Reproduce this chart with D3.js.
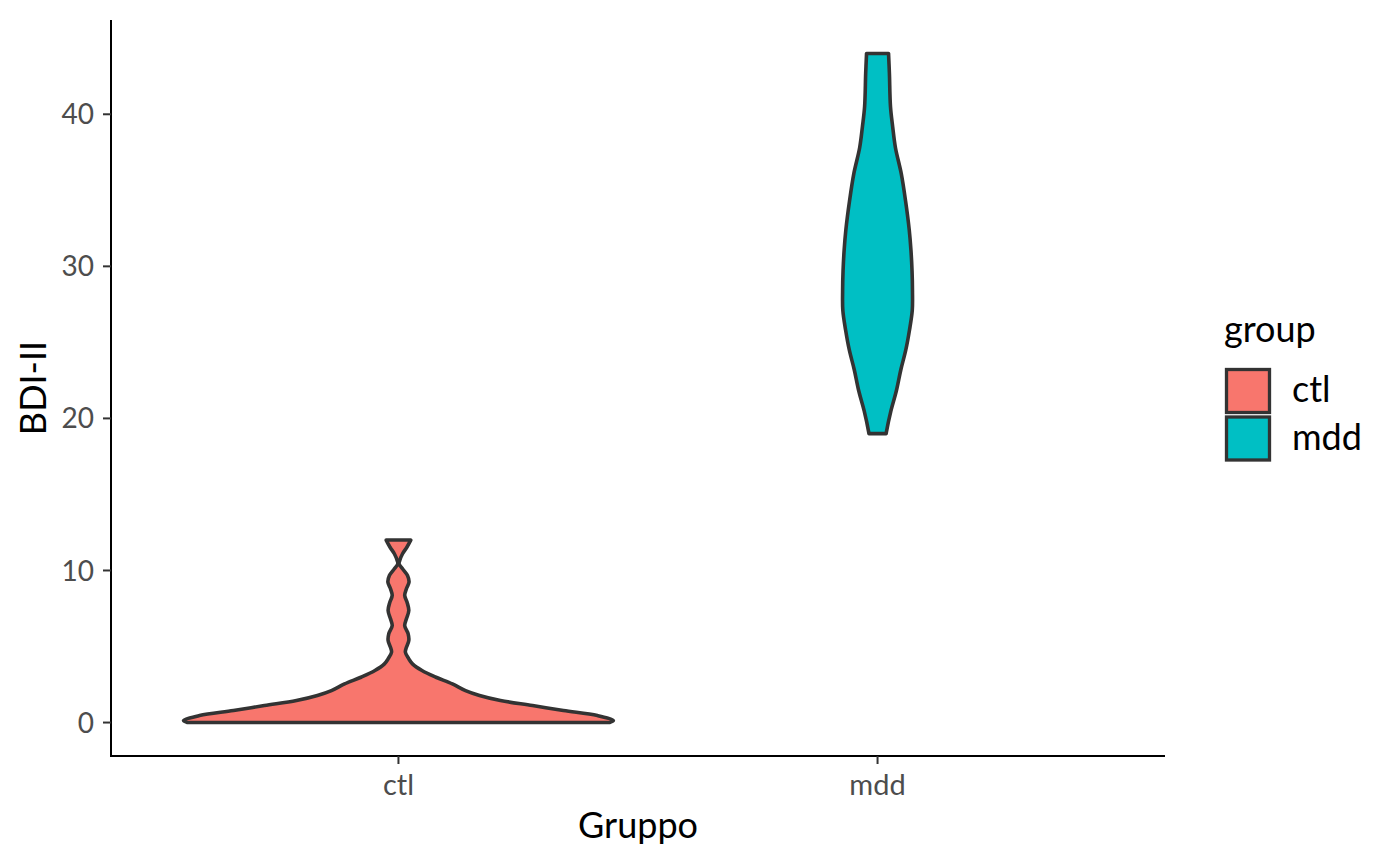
<!DOCTYPE html>
<html>
<head>
<meta charset="utf-8">
<script src="https://cdn.jsdelivr.net/npm/d3@7"></script>
<style>
  html, body { margin: 0; padding: 0; background: #ffffff; }
  svg { display: block; }
  text { font-family: "Source Sans Pro", Lato, "Noto Sans", sans-serif; }
</style>
</head>
<body>
<svg id="chart" width="1400" height="865"></svg>
<script>
// ---- data ----
const groups = ["ctl", "mdd"];
const groupColors = ["#F8766D", "#00BFC4"];
const yTicks = [0, 10, 20, 30, 40];

// violin profiles: BDI-II value and relative violin width (1 = full width)
const ctlValues = [0, 0.13, 0.46, 0.79, 1.12, 1.45, 1.78, 2.1, 2.54, 2.98, 3.42, 3.86, 4.19, 4.63, 4.95, 5.39, 5.83, 6.38, 6.82, 7.37, 7.91, 8.36, 8.8, 9.23, 9.67, 10.11, 10.44, 10.66, 11.1, 11.53, 12];
const ctlWidths = [0.979, 0.997, 0.923, 0.765, 0.622, 0.473, 0.376, 0.311, 0.250, 0.174, 0.109, 0.065, 0.048, 0.032, 0.037, 0.048, 0.045, 0.029, 0.037, 0.048, 0.040, 0.029, 0.037, 0.049, 0.042, 0.019, 0.003, 0.006, 0.019, 0.039, 0.057];
const mddValues = [19, 19.1, 20.5, 21.8, 23.2, 24.5, 25.8, 27.1, 28.4, 29.7, 31.05, 32.4, 34.3, 36.1, 37.8, 39.2, 40.5, 42.7, 44];
const mddWidths = [0.040, 0.041, 0.062, 0.087, 0.108, 0.131, 0.148, 0.161, 0.162, 0.160, 0.155, 0.147, 0.130, 0.110, 0.083, 0.070, 0.060, 0.055, 0.051];

const xTitle = "Gruppo";
const yTitle = "BDI-II";
const legendTitle = "group";

// ---- layout ----
const svg = d3.select("#chart");
const panel = { left: 111, right: 1165, top: 20, bottom: 756 };

const yMin = 0, yMax = 44, yPad = (yMax - yMin) * 0.05;
const y = d3.scaleLinear().domain([yMin - yPad, yMax + yPad]).range([panel.bottom, panel.top]);
const xPos = d3.scaleLinear().domain([0.4, 2.6]).range([panel.left, panel.right]);
const unit = xPos(2) - xPos(1);
const halfMax = 0.45 * unit;

const profiles = [
  { group: "ctl", values: ctlValues, widths: ctlWidths },
  { group: "mdd", values: mddValues, widths: mddWidths }
];

// ---- violins ----
const sideLine = d3.line().x(d => d[0]).y(d => d[1]).curve(d3.curveCatmullRom.alpha(0.5));
profiles.forEach((p, i) => {
  const cx = xPos(i + 1);
  const right = p.values.map((v, k) => [cx + p.widths[k] * halfMax, y(v)]);
  const left = p.values.map((v, k) => [cx - p.widths[k] * halfMax, y(v)]).reverse();
  const d = sideLine(right) + "L" + sideLine(left).slice(1) + "Z";
  svg.append("path")
    .attr("d", d)
    .attr("fill", groupColors[i])
    .attr("stroke", "#333333")
    .attr("stroke-width", 3.6)
    .attr("stroke-linejoin", "round");
});

// ---- axes ----
const axisG = svg.append("g");
axisG.append("line").attr("x1", panel.left).attr("x2", panel.left)
  .attr("y1", panel.top).attr("y2", panel.bottom + 1)
  .attr("stroke", "#000").attr("stroke-width", 2);
axisG.append("line").attr("x1", panel.left - 1).attr("x2", panel.right)
  .attr("y1", panel.bottom).attr("y2", panel.bottom)
  .attr("stroke", "#000").attr("stroke-width", 2);

yTicks.forEach(t => {
  axisG.append("line").attr("x1", panel.left - 8).attr("x2", panel.left)
    .attr("y1", y(t)).attr("y2", y(t)).attr("stroke", "#333333").attr("stroke-width", 2);
  axisG.append("text").attr("x", 94).attr("y", y(t))
    .attr("dy", "0.36em").attr("text-anchor", "end")
    .attr("font-size", 28).attr("fill", "#4D4D4D").text(t);
});

groups.forEach((g, i) => {
  const cx = xPos(i + 1);
  axisG.append("line").attr("x1", cx).attr("x2", cx)
    .attr("y1", panel.bottom).attr("y2", panel.bottom + 8).attr("stroke", "#333333").attr("stroke-width", 2);
  axisG.append("text").attr("x", cx).attr("y", 795)
    .attr("text-anchor", "middle")
    .attr("font-size", 29).attr("fill", "#4D4D4D").text(g);
});

// axis titles
svg.append("text").attr("x", (panel.left + panel.right) / 2).attr("y", 838)
  .attr("text-anchor", "middle").attr("font-size", 36).attr("fill", "#000").text(xTitle);
svg.append("text").attr("transform", `translate(46,${(panel.top + panel.bottom) / 2}) rotate(-90)`)
  .attr("text-anchor", "middle").attr("font-size", 36).attr("fill", "#000").text(yTitle);

// ---- legend ----
const leg = svg.append("g");
leg.append("text").attr("x", 1224).attr("y", 342).attr("font-size", 36).attr("fill", "#000").text(legendTitle);
groups.forEach((g, i) => {
  const top = 368 + i * 47.5;
  leg.append("rect").attr("x", 1226.5).attr("y", top + 1.5).attr("width", 43).attr("height", 43)
    .attr("fill", groupColors[i]).attr("stroke", "#333333").attr("stroke-width", 3.3);
  leg.append("text").attr("x", 1292).attr("y", top + 34)
    .attr("font-size", 36).attr("fill", "#000").text(g);
});
</script>
</body>
</html>
